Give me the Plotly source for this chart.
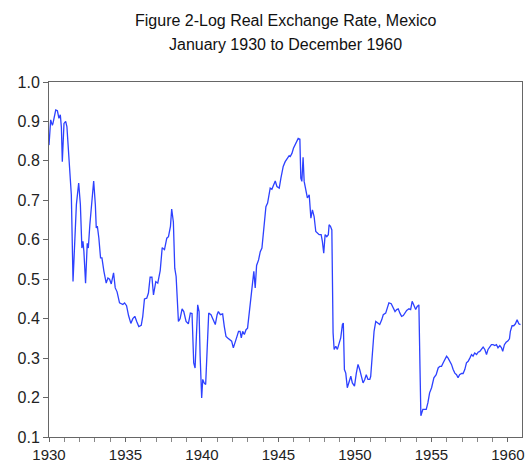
import plotly.graph_objects as go

# Decimal-year dates and log real exchange rate values
dates = [
    1930.00, 1930.11, 1930.22, 1930.26, 1930.44, 1930.55, 1930.65, 1930.74, 1930.81, 1930.87,
    1930.98, 1931.09, 1931.17, 1931.29, 1931.42, 1931.46, 1931.57, 1931.79, 1931.94, 1932.05,
    1932.15, 1932.22, 1932.28, 1932.39, 1932.50, 1932.57, 1932.67, 1932.80, 1932.92, 1933.03,
    1933.09, 1933.16, 1933.26, 1933.37, 1933.46, 1933.59, 1933.74, 1933.85, 1933.96, 1934.07,
    1934.22, 1934.33, 1934.45, 1934.61, 1934.83, 1934.94, 1935.07, 1935.20, 1935.35, 1935.48,
    1935.61, 1935.74, 1935.87, 1936.03, 1936.13, 1936.24, 1936.39, 1936.50, 1936.61, 1936.73,
    1936.83, 1936.98, 1937.11, 1937.27, 1937.40, 1937.55, 1937.70, 1937.81, 1937.94, 1938.02,
    1938.13, 1938.22, 1938.31, 1938.46, 1938.57, 1938.70, 1938.81, 1938.96, 1939.11, 1939.24,
    1939.35, 1939.46, 1939.55, 1939.72, 1939.81, 1939.88, 1939.94, 1939.98, 1940.05, 1940.14,
    1940.24, 1940.33, 1940.44, 1940.59, 1940.74, 1940.87, 1940.99, 1941.07, 1941.20, 1941.35,
    1941.46, 1941.57, 1941.68, 1941.83, 1941.94, 1942.05, 1942.18, 1942.29, 1942.39, 1942.49,
    1942.57, 1942.66, 1942.77, 1942.88, 1942.98, 1943.09, 1943.20, 1943.31, 1943.39, 1943.48,
    1943.57, 1943.70, 1943.81, 1943.92, 1944.01, 1944.12, 1944.18, 1944.29, 1944.40, 1944.46,
    1944.57, 1944.68, 1944.79, 1944.90, 1945.05, 1945.16, 1945.23, 1945.31, 1945.44, 1945.57,
    1945.70, 1945.77, 1945.88, 1945.98, 1946.09, 1946.18, 1946.29, 1946.40, 1946.46, 1946.53,
    1946.61, 1946.68, 1946.79, 1946.89, 1947.01, 1947.12, 1947.22, 1947.33, 1947.44, 1947.55,
    1947.66, 1947.79, 1947.87, 1947.96, 1948.05, 1948.16, 1948.26, 1948.31, 1948.40, 1948.49,
    1948.57, 1948.64, 1948.75, 1948.85, 1948.96, 1949.07, 1949.18, 1949.24, 1949.31, 1949.40,
    1949.50, 1949.61, 1949.73, 1949.83, 1949.97, 1950.09, 1950.20, 1950.31, 1950.42, 1950.53,
    1950.64, 1950.74, 1950.85, 1950.97, 1951.03, 1951.14, 1951.25, 1951.36, 1951.51, 1951.62,
    1951.75, 1951.85, 1952.01, 1952.11, 1952.22, 1952.37, 1952.49, 1952.62, 1952.73, 1952.83,
    1952.94, 1953.05, 1953.16, 1953.27, 1953.38, 1953.53, 1953.64, 1953.74, 1953.86, 1953.97,
    1954.07, 1954.18, 1954.25, 1954.31, 1954.44, 1954.57, 1954.66, 1954.77, 1954.88, 1955.01,
    1955.16, 1955.31, 1955.44, 1955.55, 1955.66, 1955.77, 1955.88, 1955.99, 1956.09, 1956.20,
    1956.31, 1956.42, 1956.53, 1956.64, 1956.74, 1956.84, 1956.97, 1957.07, 1957.18, 1957.29,
    1957.40, 1957.51, 1957.62, 1957.72, 1957.83, 1957.95, 1958.05, 1958.16, 1958.27, 1958.38,
    1958.49, 1958.60, 1958.70, 1958.81, 1958.92, 1959.03, 1959.14, 1959.25, 1959.35, 1959.47,
    1959.58, 1959.66, 1959.77, 1959.88, 1959.99, 1960.10, 1960.16, 1960.27, 1960.38, 1960.49,
    1960.60, 1960.71, 1960.82,
]
values = [
    0.840, 0.904, 0.890, 0.895, 0.929, 0.927, 0.908, 0.917, 0.885, 0.798,
    0.895, 0.900, 0.887, 0.824, 0.760, 0.714, 0.494, 0.689, 0.744, 0.690,
    0.579, 0.596, 0.571, 0.490, 0.591, 0.579, 0.638, 0.705, 0.749, 0.689,
    0.630, 0.635, 0.604, 0.554, 0.554, 0.520, 0.490, 0.503, 0.500, 0.488,
    0.516, 0.478, 0.468, 0.440, 0.436, 0.440, 0.433, 0.408, 0.388, 0.400,
    0.406, 0.392, 0.380, 0.383, 0.406, 0.450, 0.452, 0.465, 0.505, 0.505,
    0.460, 0.494, 0.490, 0.522, 0.580, 0.575, 0.604, 0.608, 0.634, 0.678,
    0.645, 0.528, 0.507, 0.393, 0.400, 0.425, 0.418, 0.393, 0.387, 0.414,
    0.413, 0.288, 0.275, 0.435, 0.418, 0.305, 0.241, 0.199, 0.246, 0.237,
    0.233, 0.322, 0.414, 0.410, 0.397, 0.385, 0.410, 0.418, 0.410, 0.412,
    0.380, 0.355, 0.351, 0.347, 0.343, 0.326, 0.339, 0.355, 0.368, 0.368,
    0.351, 0.368, 0.360, 0.372, 0.376, 0.415, 0.460, 0.505, 0.520, 0.478,
    0.535, 0.549, 0.570, 0.579, 0.621, 0.651, 0.684, 0.693, 0.714, 0.731,
    0.728, 0.739, 0.749, 0.735, 0.731, 0.756, 0.772, 0.786, 0.798, 0.807,
    0.813, 0.811, 0.819, 0.832, 0.840, 0.846, 0.857, 0.855, 0.756, 0.748,
    0.809, 0.748, 0.727, 0.706, 0.714, 0.655, 0.676, 0.659, 0.621, 0.617,
    0.613, 0.613, 0.596, 0.566, 0.613, 0.608, 0.613, 0.638, 0.634, 0.625,
    0.364, 0.322, 0.330, 0.322, 0.339, 0.351, 0.385, 0.389, 0.271, 0.262,
    0.225, 0.240, 0.254, 0.237, 0.229, 0.262, 0.284, 0.271, 0.250, 0.237,
    0.246, 0.258, 0.246, 0.246, 0.254, 0.322, 0.368, 0.393, 0.389, 0.385,
    0.397, 0.410, 0.414, 0.427, 0.440, 0.438, 0.427, 0.418, 0.423, 0.425,
    0.414, 0.406, 0.408, 0.414, 0.421, 0.425, 0.423, 0.444, 0.433, 0.423,
    0.431, 0.435, 0.279, 0.154, 0.170, 0.171, 0.170, 0.187, 0.212, 0.225,
    0.250, 0.258, 0.275, 0.279, 0.279, 0.288, 0.296, 0.305, 0.300, 0.292,
    0.284, 0.271, 0.262, 0.258, 0.250, 0.258, 0.261, 0.261, 0.271, 0.288,
    0.292, 0.300, 0.309, 0.305, 0.313, 0.309, 0.315, 0.317, 0.322, 0.328,
    0.322, 0.309, 0.322, 0.330, 0.334, 0.334, 0.332, 0.334, 0.326, 0.332,
    0.326, 0.317, 0.334, 0.340, 0.343, 0.349, 0.368, 0.382, 0.382, 0.387,
    0.397, 0.387, 0.385,
]

title_lines = ["Figure 2-Log Real Exchange Rate, Mexico", "January 1930 to December 1960"]
x_ticks = [1930, 1935, 1940, 1945, 1950, 1955, 1960]
y_ticks = [0.1, 0.2, 0.3, 0.4, 0.5, 0.6, 0.7, 0.8, 0.9, 1.0]

fig = go.Figure()
fig.add_trace(go.Scatter(
    x=dates, y=values, mode="lines",
    line=dict(color="rgb(45,65,255)", width=1.3),
    showlegend=False, hoverinfo="x+y",
))

font = "Liberation Sans, Arial, sans-serif"
fig.update_layout(
    width=526, height=463,
    margin=dict(l=49, r=4, t=82, b=26),
    paper_bgcolor="white", plot_bgcolor="white",
    font=dict(family=font, size=15, color="#222"),
)
fig.add_annotation(text=title_lines[0], xref="paper", yref="paper", x=0.5, y=1,
                   yshift=62, showarrow=False, yanchor="middle",
                   font=dict(size=16, color="#111", family=font))
fig.add_annotation(text=title_lines[1], xref="paper", yref="paper", x=0.5, y=1,
                   yshift=38, showarrow=False, yanchor="middle",
                   font=dict(size=16, color="#111", family=font))

fig.update_xaxes(
    range=[1930, 1960.92], tickvals=x_ticks, ticktext=[str(t) for t in x_ticks],
    showgrid=False, zeroline=False, automargin=False,
    showline=True, linecolor="#666", linewidth=1, mirror=True,
    ticks="outside", ticklen=4, tickcolor="#666",
    minor=dict(dtick=1, tick0=1930, ticks="outside", ticklen=4, tickcolor="#888", showgrid=False),
    tickfont=dict(size=15, color="#222"),
)
fig.update_yaxes(
    range=[0.1, 1.0], tickvals=y_ticks, ticktext=[f"{v:.1f}" for v in y_ticks],
    showgrid=False, zeroline=False, automargin=False,
    showline=True, linecolor="#666", linewidth=1, mirror=True,
    ticks="outside", ticklen=5, tickcolor="#666",
    tickfont=dict(size=16, color="#222"),
)

fig.write_html("out.html", config={"displayModeBar": False},
               post_script="document.body.style.margin='0';")
